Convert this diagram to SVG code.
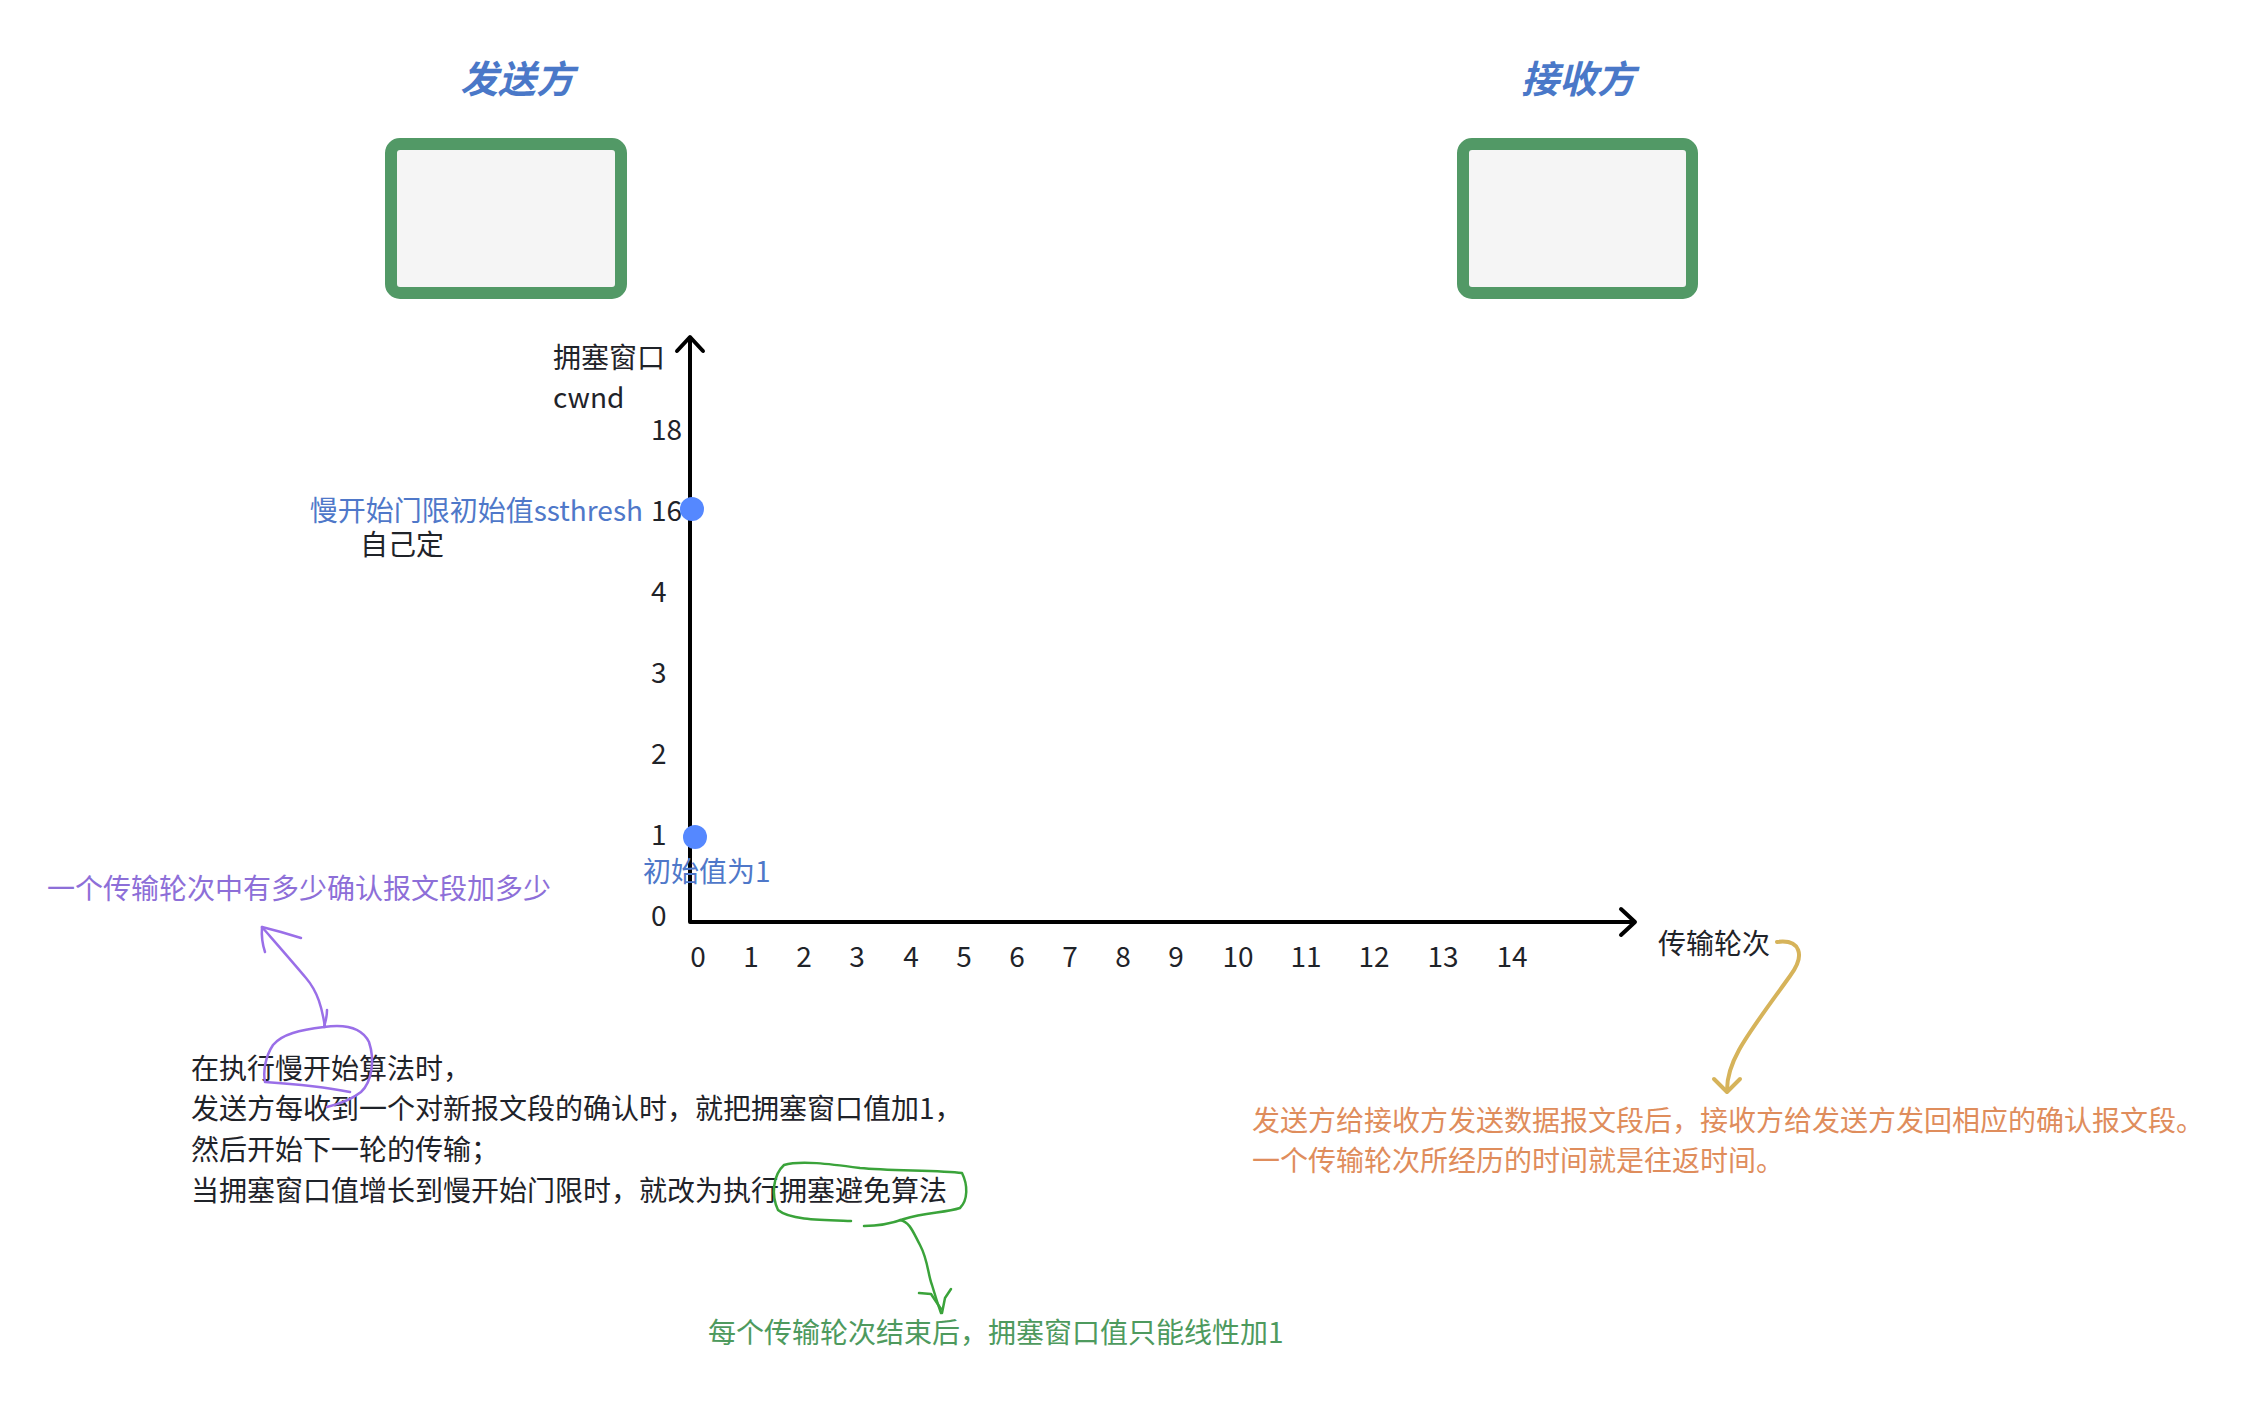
<svg xmlns="http://www.w3.org/2000/svg" width="2252" height="1402" viewBox="0 0 2252 1402">
<style>
text{font-family:"Noto Sans CJK SC","Noto Sans",sans-serif;font-size:28px;fill:#1f2329}
.title{font-size:38px;font-weight:bold;font-style:italic;fill:#4a78c8;text-anchor:middle}
.box{fill:#f5f5f5;stroke:#529966;stroke-width:12}
.axis{fill:none;stroke:#000;stroke-width:4;stroke-linecap:round;stroke-linejoin:round}
.tick{font-size:27px}
.xt{text-anchor:middle}
.blue{fill:#4f78c9}
.orange{fill:#df8d5c}
.purple{fill:#8d6fd8}
.green{fill:#4e9a5e}
.dot{fill:#5588ff}
.yl{fill:none;stroke:#d6b35a;stroke-width:4;stroke-linecap:round;stroke-linejoin:round}
.pl{fill:none;stroke:#9a6fe8;stroke-width:2.5;stroke-linecap:round;stroke-linejoin:round}
.gl{fill:none;stroke:#3aa33a;stroke-width:2.5;stroke-linecap:round;stroke-linejoin:round}
</style>
<rect width="2252" height="1402" fill="#fff"/>
<g id="sender">
<text class="title" x="517" y="93">发送方</text>
<rect class="box" x="391" y="144" width="230" height="149" rx="9"/>
</g>
<g id="receiver">
<text class="title" x="1578" y="93">接收方</text>
<rect class="box" x="1463" y="144" width="229" height="149" rx="9"/>
</g>
<g id="chart">
<path class="axis" d="M690,338 L690,922 L1634,922"/>
<path class="axis" d="M677,351 L690,337 L703,351"/>
<path class="axis" d="M1621,909 L1635,922 L1621,935"/>
<text x="553" y="368">拥塞窗口</text>
<text x="553" y="408">cwnd</text>
<g class="tick">
<text x="651" y="440">18</text>
<text x="651" y="521">16</text>
<text x="651" y="602">4</text>
<text x="651" y="683">3</text>
<text x="651" y="764">2</text>
<text x="651" y="845">1</text>
<text x="651" y="926">0</text>
</g>
<g class="tick xt">
<text x="698" y="967">0</text>
<text x="751" y="967">1</text>
<text x="804" y="967">2</text>
<text x="857" y="967">3</text>
<text x="911" y="967">4</text>
<text x="964" y="967">5</text>
<text x="1017" y="967">6</text>
<text x="1070" y="967">7</text>
<text x="1123" y="967">8</text>
<text x="1176" y="967">9</text>
<text x="1238" y="967">10</text>
<text x="1306" y="967">11</text>
<text x="1374" y="967">12</text>
<text x="1443" y="967">13</text>
<text x="1512" y="967">14</text>
</g>
<text x="1658" y="954">传输轮次</text>
<circle class="dot" cx="692" cy="509" r="12"/>
<circle class="dot" cx="695" cy="837" r="12"/>
</g>
<g id="ssthresh-label">
<text class="blue" x="643" y="521" text-anchor="end">慢开始门限初始值ssthresh</text>
<text x="360" y="555">自己定</text>
</g>
<g id="init-label">
<text class="blue" x="643" y="882">初始值为1</text>
</g>
<g id="purple-note">
<text class="purple" x="47" y="899">一个传输轮次中有多少确认报文段加多少</text>
</g>
<g id="slow-start-note">
<text x="191" y="1079">在执行慢开始算法时，</text>
<text x="191" y="1119">发送方每收到一个对新报文段的确认时，就把拥塞窗口值加1，</text>
<text x="191" y="1160">然后开始下一轮的传输；</text>
<text x="191" y="1201">当拥塞窗口值增长到慢开始门限时，就改为执行拥塞避免算法</text>
</g>
<g id="green-note">
<text class="green" x="708" y="1343">每个传输轮次结束后，拥塞窗口值只能线性加1</text>
</g>
<g id="orange-note">
<text class="orange" x="1252" y="1131">发送方给接收方发送数据报文段后，接收方给发送方发回相应的确认报文段。</text>
<text class="orange" x="1252" y="1171">一个传输轮次所经历的时间就是往返时间。</text>
</g>
<g id="connectors">
<path class="yl" d="M1777,942 C1800,939 1806,955 1790,976 C1770,1004 1750,1030 1739,1050 C1729,1068 1727,1080 1727,1090"/>
<path class="yl" d="M1714,1079 L1727,1092 L1740,1079"/>
<path class="pl" d="M325,1027 C322,1008 318,992 306,978 C296,966 282,950 262,927"/>
<path class="pl" d="M265,952 Q261,940 262,927 L281,932 L301,938"/>
<path class="pl" d="M327,1010 C327,1018 325,1023 324,1027 C300,1030 282,1034 273,1045 C265,1057 263,1072 265,1082 C295,1084 325,1087 350,1092"/>
<path class="pl" d="M324,1027 C345,1024 362,1028 369,1042 C375,1060 372,1082 361,1092 C351,1100 339,1104 327,1107"/>
<path class="gl" d="M851,1221 C820,1220 790,1220 778,1210 C771,1195 773,1175 784,1165 C800,1160 830,1164 860,1168 C890,1171 940,1170 962,1173 C968,1185 968,1200 960,1208 C945,1213 925,1212 904,1219 C890,1224 875,1226 864,1226"/>
<path class="gl" d="M900,1220 C910,1222 913,1232 920,1245 C928,1260 928,1275 932,1285 C936,1298 938,1305 941,1313"/>
<path class="gl" d="M919,1293 L931,1294 L941,1309 M951,1289 L945,1298 L942,1313"/>
</g>
</svg>
